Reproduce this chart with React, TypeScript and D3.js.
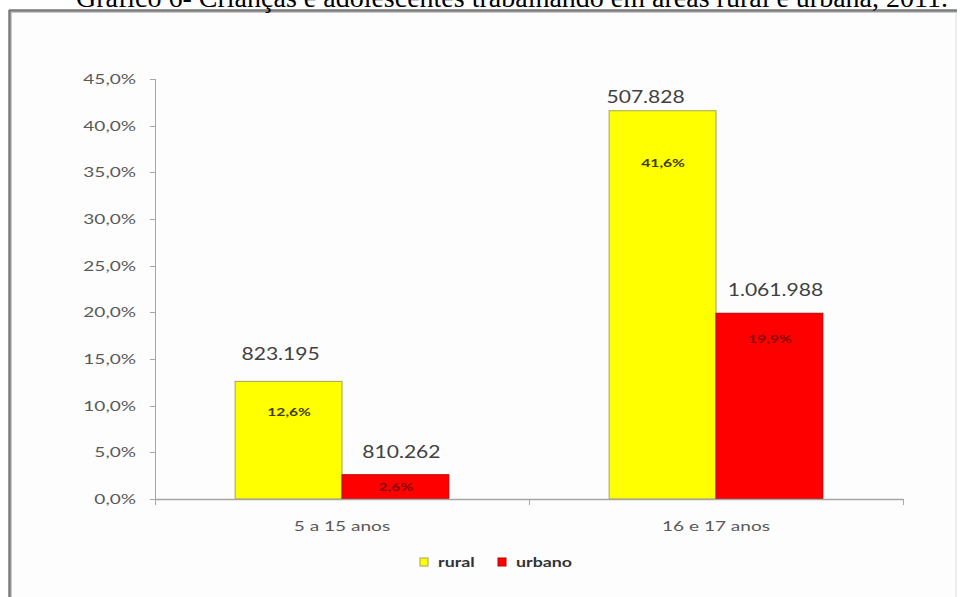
import React from "react";
import * as d3 from "d3";

// ---- data ----
const categories = ["5 a 15 anos", "16 e 17 anos"];
const seriesNames = ["rural", "urbano"];
const ruralPct = [12.6, 41.6];
const urbanoPct = [2.6, 19.9];
const ruralCount = ["823.195", "507.828"];
const urbanoCount = ["810.262", "1.061.988"];
const yTickValues = [0, 5, 10, 15, 20, 25, 30, 35, 40, 45];
const title = "Gráfico 6- Crianças e adolescentes trabalhando em áreas rural e urbana, 2011.";

// ---- styles / layout ----
const W = 960;
const H = 597;
const colors: Record<string, string> = { rural: "#FFFF00", urbano: "#FF0000" };
const borders: Record<string, string> = { rural: "#a3a35a", urbano: "#c00000" };
const insideColors: Record<string, string> = { rural: "#3d3d00", urbano: "#8a0000" };
const FONT = "Lato, 'Open Sans', sans-serif";
const SX = 1.36;

// manual label adjustments (layout only)
const countDx: Record<string, number[]> = { rural: [-8, -17], urbano: [6, 6] };
const countDy: Record<string, number[]> = { rural: [-21, -8], urbano: [-17, -17] };
const insideDy: Record<string, number[]> = { rural: [35, 56], urbano: [16, 30] };

function SText(props: {
  x: number; y: number; sx?: number; anchor?: string; size: number; fill: string;
  weight?: string | number; family?: string; children: React.ReactNode;
}) {
  const { x, y, sx = SX, anchor = "start", size, fill, weight = "normal", family = FONT, children } = props;
  return (
    <text
      transform={`translate(${x},${y}) scale(${sx},1)`}
      textAnchor={anchor}
      fontSize={size}
      fill={fill}
      fontWeight={weight}
      fontFamily={family}
    >
      {children}
    </text>
  );
}

export default function App() {
  const x0 = d3.scaleBand<string>().domain(categories).range([155, 903]).paddingInner(0).paddingOuter(0);
  const x1 = d3.scaleBand<string>().domain(seriesNames).range([0, x0.bandwidth()]).paddingInner(0).paddingOuter(0.75);
  const y = d3.scaleLinear().domain([0, 45]).range([499, 79]);

  const values: Record<string, number[]> = { rural: ruralPct, urbano: urbanoPct };
  const counts: Record<string, string[]> = { rural: ruralCount, urbano: urbanoCount };
  const fmtPct = (v: number) => d3.format(".1f")(v).replace(".", ",") + "%";

  const axisColor = "#a6a6a6";

  return (
    <svg
      width={W}
      height={H}
      style={{ position: "absolute", left: 0, top: 0, background: "#ffffff" }}
    >
      {/* frame */}
      <rect x={10} y={11} width={946} height={590} fill="#fdfdfd" stroke="#dcdcdc" strokeWidth={1} />
      <line x1={9} y1={10.5} x2={957} y2={10.5} stroke="#7a7a7a" strokeWidth={2.5} />
      <line x1={9.5} y1={10} x2={9.5} y2={H} stroke="#7a7a7a" strokeWidth={2.5} />
      <line x1={12} y1={12.5} x2={957} y2={12.5} stroke="#c8c8c8" strokeWidth={1} />
      <line x1={11.5} y1={12} x2={11.5} y2={H} stroke="#c8c8c8" strokeWidth={1} />

      {/* title */}
      <text x={512} y={7} textAnchor="middle" fontFamily="'Liberation Serif', 'Times New Roman', serif" fontSize={28} fill="#000">
        {title}
      </text>

      {/* y axis */}
      <line x1={155.5} y1={y(45)} x2={155.5} y2={y(0)} stroke={axisColor} strokeWidth={1} />
      {yTickValues.map((t) => (
        <g key={t}>
          <line x1={150} y1={Math.round(y(t)) + 0.5} x2={155} y2={Math.round(y(t)) + 0.5} stroke={axisColor} />
          <SText x={136} y={y(t) + 5} anchor="end" size={14} fill="#595959">
            {fmtPct(t)}
          </SText>
        </g>
      ))}

      {/* bars */}
      {categories.map((c, i) => (
        <g key={c}>
          {seriesNames.map((s) => {
            const bx = (x0(c) as number) + (x1(s) as number);
            const bw = x1.bandwidth();
            const v = values[s][i];
            return (
              <g key={s}>
                <rect x={bx} y={y(v)} width={bw} height={y(0) - y(v)} fill={colors[s]} stroke={borders[s]} strokeWidth={1} />
                <SText
                  x={bx + bw / 2 + 0.5}
                  y={y(v) + insideDy[s][i]}
                  anchor="middle"
                  size={11.5}
                  weight="bold"
                  fill={insideColors[s]}
                >
                  {fmtPct(v)}
                </SText>
                <SText
                  x={bx + bw / 2 + countDx[s][i]}
                  y={y(v) + countDy[s][i]}
                  anchor="middle"
                  size={18}
                  sx={1.17}
                  fill="#404040"
                >
                  {counts[s][i]}
                </SText>
              </g>
            );
          })}
        </g>
      ))}

      {/* x axis */}
      <line x1={155} y1={499.5} x2={903} y2={499.5} stroke={axisColor} strokeWidth={1.5} />
      {[...categories.map((c) => x0(c) as number), 903].map((t, i) => (
        <line key={i} x1={t + 0.5} y1={499} x2={t + 0.5} y2={505} stroke={axisColor} />
      ))}
      {categories.map((c) => (
        <SText key={c} x={(x0(c) as number) + x0.bandwidth() / 2} y={531} anchor="middle" size={14} fill="#595959">
          {c}
        </SText>
      ))}

      {/* legend */}
      {seriesNames.map((s, i) => {
        const lx = [420, 498][i];
        return (
          <g key={s}>
            <rect x={lx} y={558} width={8} height={8} fill={colors[s]} stroke={borders[s]} strokeWidth={1} />
            <SText x={lx + 18} y={567} size={13.5} weight="bold" fill="#333333" sx={1.32}>
              {s}
            </SText>
          </g>
        );
      })}
    </svg>
  );
}
